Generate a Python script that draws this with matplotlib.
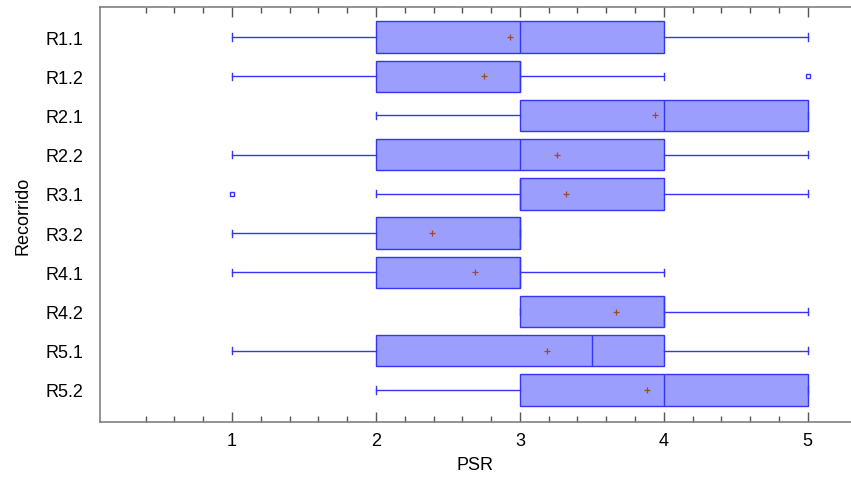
import matplotlib
matplotlib.use("Agg")
import matplotlib.pyplot as plt
import numpy as np
from matplotlib.ticker import FixedLocator

# data
recorridos = ["R1.1", "R1.2", "R2.1", "R2.2", "R3.1", "R3.2", "R4.1", "R4.2", "R5.1", "R5.2"]
whis_lo = [1, 1, 2, 1, 2, 1, 1, 3, 1, 2]
q1 = [2, 2, 3, 2, 3, 2, 2, 3, 2, 3]
medians = [3, 3, 4, 3, 3, 3, 3, 4, 3.5, 4]
q3 = [4, 3, 5, 4, 4, 3, 3, 4, 4, 5]
whis_hi = [5, 4, 5, 5, 5, 3, 4, 5, 5, 5]
means = [2.93, 2.75, 3.94, 3.26, 3.32, 2.39, 2.69, 3.67, 3.19, 3.88]
outliers = [[], [5], [], [], [1], [], [], [], [], []]

plt.rcParams['font.family'] = ['Liberation Sans', 'DejaVu Sans']

EDGE = "#3535F5"
FILL = "#9B9EFC"
MEAN_COLOR = "#A04A2A"

stats = []
for i, name in enumerate(recorridos):
    stats.append({
        "label": name,
        "whislo": whis_lo[i],
        "q1": q1[i],
        "med": medians[i],
        "q3": q3[i],
        "whishi": whis_hi[i],
        "mean": means[i],
        "fliers": outliers[i],
    })

fig = plt.figure(figsize=(8.51, 4.81), dpi=100)
ax = fig.add_axes([100 / 851, 1 - 423 / 481, 1 - 100 / 851, 415 / 481])

positions = list(range(1, len(recorridos) + 1))
ax.bxp(
    stats,
    positions=positions,
    orientation="horizontal",
    widths=0.8,
    capwidths=0.18,
    patch_artist=True,
    showmeans=True,
    boxprops=dict(facecolor=FILL, edgecolor=EDGE, linewidth=1.0),
    medianprops=dict(color=EDGE, linewidth=1.0),
    whiskerprops=dict(color=EDGE, linewidth=1.0),
    capprops=dict(color=EDGE, linewidth=1.0),
    meanprops=dict(marker="+", markersize=4, markeredgecolor=MEAN_COLOR,
                   markeredgewidth=0.9),
    flierprops=dict(marker="s", markersize=3, markerfacecolor="white",
                    markeredgecolor=EDGE, markeredgewidth=1.0),
)

ax.set_xlim(0.0833, 5.3)
ax.set_ylim(10.816, 0.235)
ax.set_yticks(positions)
ax.set_yticklabels(recorridos)
ax.set_xticks([1, 2, 3, 4, 5])
ax.xaxis.set_minor_locator(FixedLocator(np.arange(0.4, 5.01, 0.2)))

ax.tick_params(axis="x", which="major", direction="in", length=7, width=1,
               color="#555555", top=True, labelsize=13, pad=7)
ax.tick_params(axis="x", which="minor", direction="in", length=4, width=1,
               color="#555555", top=True)
ax.tick_params(axis="y", length=0, labelsize=13, pad=12)

for side in ["left", "top", "bottom"]:
    ax.spines[side].set_color("#808080")
    ax.spines[side].set_linewidth(1.2)
ax.spines["right"].set_visible(False)

ax.set_xlabel("PSR", fontsize=13, labelpad=5)
ax.set_ylabel("Recorrido", fontsize=13, labelpad=10)

fig.savefig("out.png", dpi=100)
